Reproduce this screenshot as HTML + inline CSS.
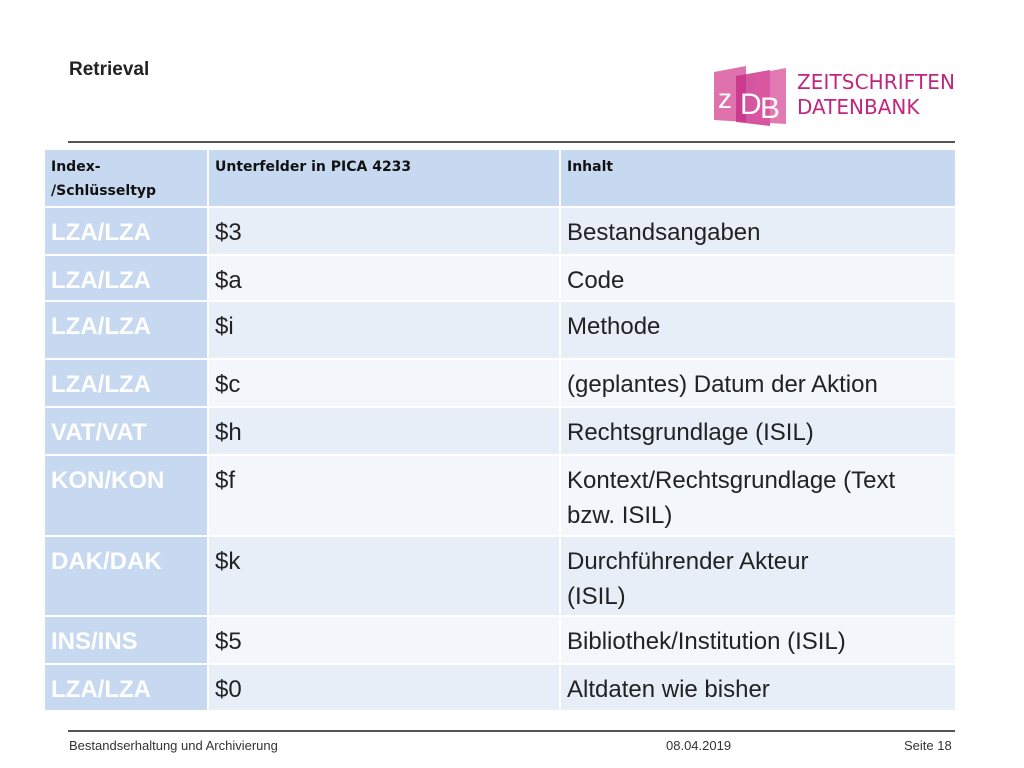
<!DOCTYPE html>
<html><head><meta charset="utf-8">
<style>
*{margin:0;padding:0;box-sizing:border-box}
body{width:1024px;height:768px;background:#fff;position:relative;font-family:"Liberation Sans",Arial,Helvetica,sans-serif;overflow:hidden}
.abs{position:absolute}
.cell{position:absolute;padding:7px 0 0 6px;font-size:24px;line-height:35px;color:#222}
.c1{background:#c6d9f1;color:#fff;font-weight:bold}
.odd{background:#e8eef8}.even{background:#f3f6fb}
.hd{background:#c6d9f1;font-family:"DejaVu Sans",sans-serif;font-weight:bold;font-size:14px;line-height:24px;color:#111;padding:5px 0 0 6px}
</style></head><body>
<div class="abs" style="left:69px;top:59px;font-size:19px;font-weight:bold;color:#222">Retrieval</div>
<svg class="abs" style="left:710px;top:62px" width="260" height="70">
<polygon points="4,10 36,4 36,60 4,58" fill="#d9589f" opacity="0.85"/>
<polygon points="26,14 60,8 60,64 26,60" fill="#c72d86" opacity="0.8"/>
<polygon points="44,12 76,6 76,62 44,60" fill="#d9589f" opacity="0.8"/>
<text x="8" y="46" font-size="28" fill="#fff" font-family="Liberation Sans">z</text>
<text x="30" y="52" font-size="30" fill="#fff" font-family="Liberation Sans">D</text>
<text x="50" y="56" font-size="30" fill="#fff" font-family="Liberation Sans">B</text>
<text x="87" y="27" font-size="20" fill="#c0267f" font-family="DejaVu Sans" textLength="158">ZEITSCHRIFTEN</text>
<text x="87" y="52" font-size="20" fill="#c0267f" font-family="DejaVu Sans">DATENBANK</text>
</svg>
<div class="abs" style="left:68px;top:141px;width:887px;height:2px;background:#555"></div>

<div>
<div class="cell hd" style="left:45px;top:150px;width:162px;height:56px">Index-<br>/Schlüsseltyp</div>
<div class="cell hd" style="left:209px;top:150px;width:350px;height:56px">Unterfelder in PICA 4233</div>
<div class="cell hd" style="left:561px;top:150px;width:394px;height:56px">Inhalt</div>
<div id="rows"></div>
</div>

<div class="abs" style="left:68px;top:730px;width:887px;height:2px;background:#555"></div>
<div class="abs" style="left:69px;top:738px;font-size:13px;color:#333">Bestandserhaltung und Archivierung</div>
<div class="abs" style="left:666px;top:738px;font-size:13px;color:#333">08.04.2019</div>
<div class="abs" style="left:904px;top:738px;font-size:13px;color:#333">Seite 18</div>

<script>
const keys=["LZA/LZA","LZA/LZA","LZA/LZA","LZA/LZA","VAT/VAT","KON/KON","DAK/DAK","INS/INS","LZA/LZA"];
const fields=["$3","$a","$i","$c","$h","$f","$k","$5","$0"];
const contents=["Bestandsangaben","Code","Methode","(geplantes) Datum der Aktion","Rechtsgrundlage (ISIL)","Kontext/Rechtsgrundlage (Text<br>bzw. ISIL)","Durchführender Akteur<br>(ISIL)","Bibliothek/Institution (ISIL)","Altdaten wie bisher"];
const tops=[208,256,302,360,408,456,537,617,665,712];
const host=document.getElementById('rows');
const cols=[[45,162],[209,350],[561,394]];
for(let i=0;i<keys.length;i++){
  const vals=[keys[i],fields[i],contents[i]];
  for(let c=0;c<3;c++){
    const d=document.createElement('div');
    d.className='cell '+(c===0?'c1':(i%2===0?'odd':'even'));
    d.style.left=cols[c][0]+'px';d.style.width=cols[c][1]+'px';
    d.style.top=tops[i]+'px';d.style.height=(tops[i+1]-tops[i]-2)+'px';
    d.innerHTML=vals[c];
    
    
    host.appendChild(d);
  }
}
</script>
</body></html>
